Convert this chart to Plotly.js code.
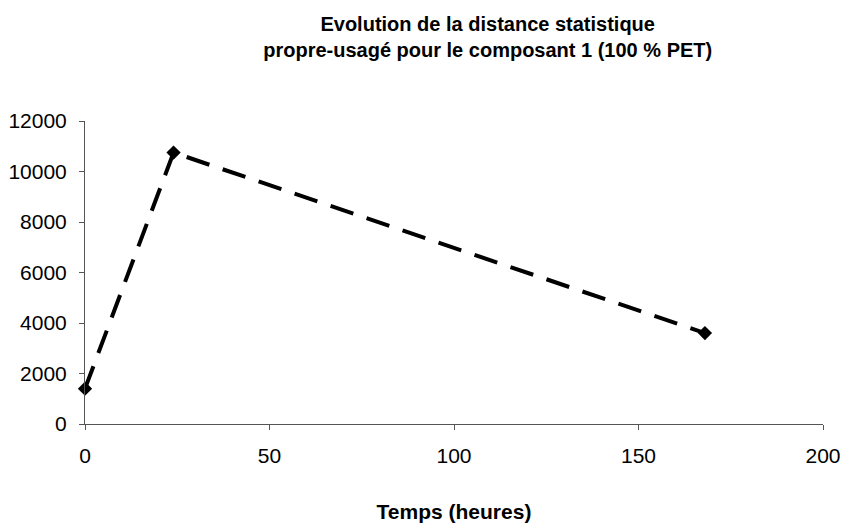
<!DOCTYPE html>
<html>
<head>
<meta charset="utf-8">
<script src="https://cdn.plot.ly/plotly-3.0.1.min.js"></script>
<style>
html,body{margin:0;padding:0;background:#fff;}
#chart{width:843px;height:526px;}
</style>
</head>
<body>
<div id="chart"></div>
<script>
// Data
var hours = [0, 24, 168];
var distance = [1400, 10750, 3600];
var xTicks = [0, 50, 100, 150, 200];
var yTicks = [0, 2000, 4000, 6000, 8000, 10000, 12000];
var titleLines = ["Evolution de la distance statistique", "propre-usagé pour le composant 1 (100 % PET)"];
var xTitle = "Temps (heures)";

var font = "Liberation Sans, Arial, sans-serif";

var trace = {
  x: hours,
  y: distance,
  type: "scatter",
  mode: "lines+markers",
  line: {color: "#000", width: 4, dash: "24px,14px"},
  marker: {symbol: "diamond", size: 11, color: "#000"},
  cliponaxis: false,
  showlegend: false
};

var layout = {
  width: 843,
  height: 526,
  paper_bgcolor: "#fff",
  plot_bgcolor: "#fff",
  margin: {l: 85, r: 20, t: 121, b: 102, pad: 0},
  font: {family: font, color: "#000", size: 21},
  title: {
    text: "<b>" + titleLines.join("<br>") + "</b>",
    font: {family: font, size: 20, color: "#000"},
    x: 460 / 843,
    xref: "paper",
    xanchor: "center",
    yref: "container",
    y: 1 - 31 / 526,
    yanchor: "top"
  },
  xaxis: {
    range: [0, 200],
    tickvals: xTicks,
    ticktext: xTicks.map(String),
    showgrid: false,
    zeroline: false,
    showline: true,
    linecolor: "#555",
    linewidth: 1,
    ticks: "outside",
    ticklen: 5,
    tickcolor: "#555",
    tickfont: {family: font, size: 21, color: "#000"},
    ticklabelstandoff: 8,
    title: {
      text: "<b>" + xTitle + "</b>",
      font: {family: font, size: 21, color: "#000"},
      standoff: 38
    }
  },
  yaxis: {
    range: [0, 12000],
    tickvals: yTicks,
    ticktext: yTicks.map(String),
    showgrid: false,
    zeroline: false,
    showline: true,
    linecolor: "#555",
    linewidth: 1,
    ticks: "outside",
    ticklen: 5,
    tickcolor: "#555",
    tickfont: {family: font, size: 21, color: "#000"},
    ticklabelstandoff: 8
  }
};

Plotly.newPlot("chart", [trace], layout, {displayModeBar: false, staticPlot: true});
</script>
</body>
</html>
